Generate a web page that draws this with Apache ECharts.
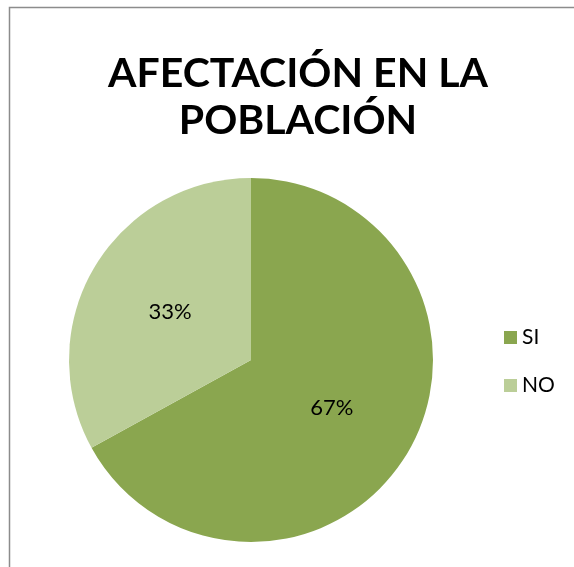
<!DOCTYPE html>
<html>
<head>
<meta charset="utf-8">
<script src="https://cdn.jsdelivr.net/npm/echarts@6/dist/echarts.min.js"></script>
<style>
  html, body { margin: 0; padding: 0; background: #fff; }
</style>
</head>
<body>
<div id="pieChart" style="width:574px;height:567px;"></div>
<script>
    // datos del gráfico
    var categorias = ['SI', 'NO'];
    var valores = [67, 33];
    var colores = ['#8AA64F', '#BBCE98'];
    var tituloLineas = ['AFECTACIÓN EN LA', 'POBLACIÓN'];

    var myChart = echarts.init(document.getElementById('pieChart'));

    var datos = categorias.map(function (c, i) {
        return { name: c, value: valores[i] };
    });

    var option = {
        animation: false,
        color: colores,
        graphic: [
            {
                // marco del gráfico
                type: 'rect',
                shape: { x: 9.5, y: 7.5, width: 620, height: 620 },
                style: { fill: 'none', stroke: '#8c8c8c', lineWidth: 1.5 },
                silent: true
            },
            {
                type: 'text',
                x: 298,
                y: 50,
                style: {
                    text: tituloLineas.join('\n'),
                    textAlign: 'center',
                    fontFamily: 'Lato',
                    fontWeight: 'bold',
                    fontSize: 41,
                    lineHeight: 47,
                    fill: '#000'
                }
            }
        ],
        legend: {
            orient: 'vertical',
            left: 499,
            top: 322,
            itemWidth: 13,
            itemHeight: 13,
            itemGap: 27,
            icon: 'rect',
            textStyle: {
                fontFamily: 'Lato',
                fontSize: 21,
                color: '#000'
            },
            data: categorias
        },
        series: [
            {
                name: 'Afectación',
                type: 'pie',
                center: [251, 360],
                radius: 182,
                startAngle: 90,
                clockwise: true,
                label: {
                    position: 'inside',
                    formatter: '{d}%',
                    fontFamily: 'Lato',
                    fontSize: 22,
                    color: '#000'
                },
                labelLine: { show: false },
                itemStyle: { borderWidth: 0 },
                emphasis: { disabled: true },
                data: datos
            }
        ]
    };
    myChart.setOption(option);
</script>
</body>
</html>
